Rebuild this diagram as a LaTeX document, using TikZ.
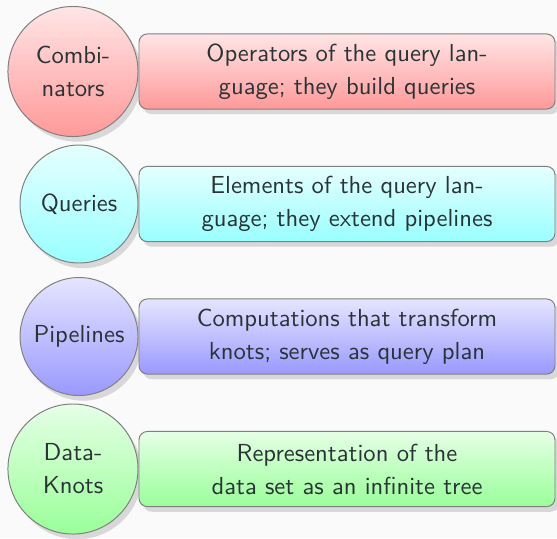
\documentclass[tikz,border=0pt]{standalone}
\usepackage{tikz}
\usetikzlibrary{positioning,shadows}
\definecolor{bgcol}{RGB}{250,250,250}
\definecolor{inkcol}{RGB}{42,52,54}

\tikzset{
  blob/.style={circle, draw=black!50, top color=#1!10, bottom color=#1!40,
    minimum size=47.9pt, inner sep=0pt, align=center, text=inkcol,
    font=\sffamily\fontsize{10}{13.4}\selectfont,
    drop shadow={opacity=0.28, shadow xshift=1.7pt, shadow yshift=-2.1pt}},
  bigblob/.style={blob=#1, minimum size=52.8pt},
  descbox/.style={rectangle, rounded corners=3.4pt, draw=black!50,
    top color=#1!10, bottom color=#1!40,
    minimum width=168.9pt, minimum height=30.5pt, align=center, text=inkcol,
    font=\sffamily\fontsize{10}{13.4}\selectfont,
    drop shadow={opacity=0.28, shadow xshift=1.7pt, shadow yshift=-2.1pt}}
}

\begin{document}
\begin{tikzpicture}[x=0.406pt, y=0.406pt]
  \useasboundingbox (0,0) rectangle (557,-538);
  \fill[bgcol] (0,0) rectangle (557,-538);

  % combinators
  \node[bigblob=red, anchor=east] (comb) at (138.5,-71.5) {Combi-\\nators};
  \node[descbox=red, right=0pt of comb] (combtxt)
    {Operators of the query lan-\\guage; they build queries};

  % queries
  \node[blob=cyan, anchor=east] (quer) at (138.5,-204) {Queries};
  \node[descbox=cyan, right=0pt of quer] (quertxt)
    {Elements of the query lan-\\guage; they extend pipelines};

  % pipelines
  \node[blob=blue, anchor=east] (pipe) at (138.5,-336.5) {Pipelines};
  \node[descbox=blue, right=0pt of pipe] (pipetxt)
    {Computations that transform\\knots; serves as query plan};

  % data knots
  \node[bigblob=green, anchor=east] (knot) at (138.5,-469) {Data-\\Knots};
  \node[descbox=green, right=0pt of knot] (knottxt)
    {Representation of the\\data set as an infinite tree};
\end{tikzpicture}
\end{document}
